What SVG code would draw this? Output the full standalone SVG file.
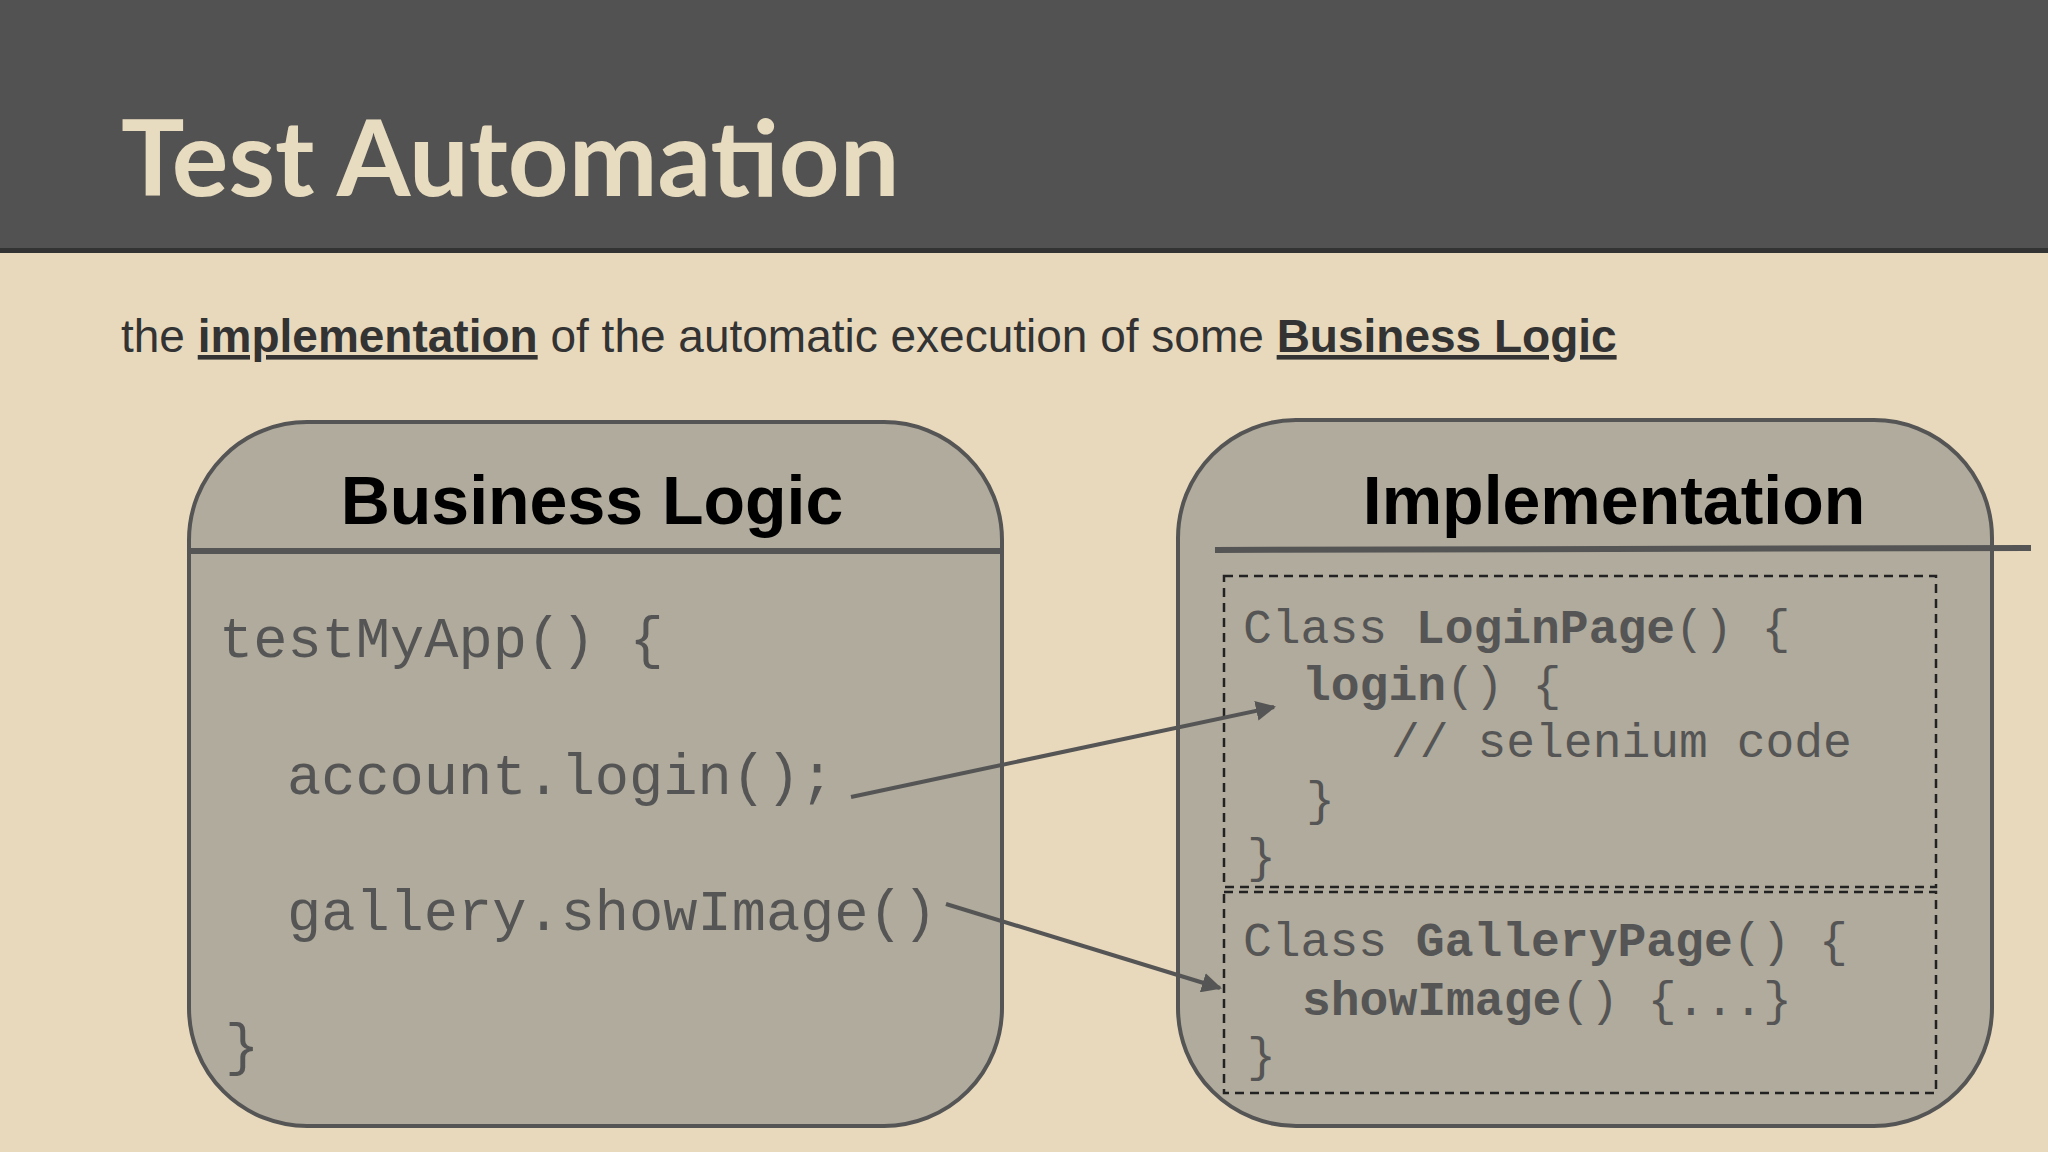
<svg xmlns="http://www.w3.org/2000/svg" width="2048" height="1152" viewBox="0 0 2048 1152">
<style>
.box{fill:#b0ab9c;stroke:#555;stroke-width:4}
.hl{stroke:#555;stroke-width:6}
.hd{font-family:"Liberation Sans",Arial,sans-serif;font-weight:bold;font-size:68px;fill:#000;text-anchor:middle}
.code{font-family:"Liberation Mono","Courier New",monospace;font-size:57px;fill:#555}
.rc{font-family:"Liberation Mono","Courier New",monospace;font-size:48px;fill:#555}
.b{font-weight:bold}
.dash{fill:none;stroke:#222;stroke-width:2.5;stroke-dasharray:9 6}
.conn{stroke:#555;stroke-width:4;fill:none;marker-end:url(#ah)}
</style>
<defs><marker id="ah" viewBox="0 0 10 10" refX="9" refY="5" markerWidth="5" markerHeight="5" orient="auto"><path d="M0,0L10,5L0,10z" fill="#555"/></marker></defs>
<rect width="2048" height="1152" fill="#e8d9bd"/>
<rect width="2048" height="249" fill="#525252"/>
<rect y="248" width="2048" height="5" fill="#333"/>
<text x="121" y="196" font-family="Lato,'Open Sans',sans-serif" font-weight="bold" font-size="106" fill="#e8dcc0">Test Automation</text>
<text x="121" y="352" font-family="'Liberation Sans',Arial,sans-serif" font-size="46" fill="#333">the <tspan font-weight="bold" text-decoration="underline">implementation</tspan> of the automatic execution of some <tspan font-weight="bold" text-decoration="underline">Business Logic</tspan></text>
<g id="business">
<rect class="box" x="189" y="422" width="813" height="704" rx="118"/>
<line class="hl" x1="189" y1="551" x2="1004" y2="551"/>
<text class="hd" x="592" y="524">Business Logic</text>
<text class="code" x="219" y="657">testMyApp() {</text>
<text class="code" x="287" y="794">account.login();</text>
<text class="code" x="287" y="930">gallery.showImage()</text>
<text class="code" x="225" y="1064">}</text>
</g>
<g id="implementation">
<rect class="box" x="1178" y="420" width="814" height="706" rx="118"/>
<line class="hl" x1="1215" y1="550" x2="2031" y2="548"/>
<text class="hd" x="1614" y="524">Implementation</text>
</g>
<g id="loginpage">
<rect class="dash" x="1224" y="576" width="712" height="311"/>
<text class="rc" x="1243" y="643">Class <tspan class="b">LoginPage</tspan>() {</text>
<text class="rc" x="1302" y="700"><tspan class="b">login</tspan>() {</text>
<text class="rc" x="1391" y="757">// selenium code</text>
<text class="rc" x="1306" y="815">}</text>
<text class="rc" x="1247" y="872">}</text>
</g>
<g id="gallerypage">
<rect class="dash" x="1224" y="892" width="712" height="201"/>
<text class="rc" x="1243" y="956">Class <tspan class="b">GalleryPage</tspan>() {</text>
<text class="rc" x="1302" y="1015"><tspan class="b">showImage</tspan>() {...}</text>
<text class="rc" x="1247" y="1071">}</text>
</g>
<g id="connectors">
<line class="conn" x1="851" y1="797" x2="1274" y2="707"/>
<line class="conn" x1="946" y1="904" x2="1220" y2="988"/>
</g>
</svg>
